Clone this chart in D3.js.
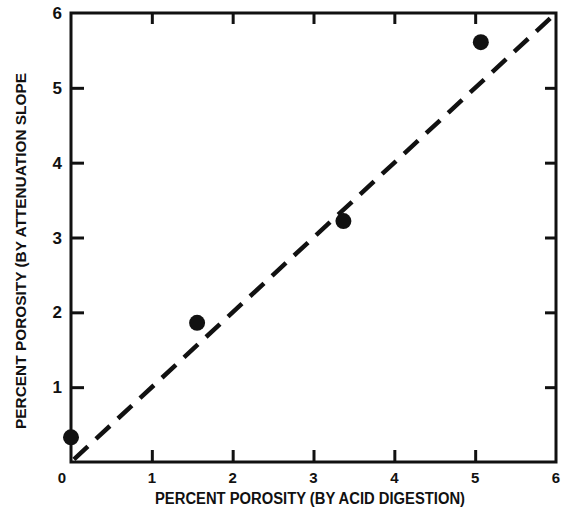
<!DOCTYPE html>
<html>
<head>
<meta charset="utf-8">
<script src="https://cdn.jsdelivr.net/npm/d3@7"></script>
<style>
  body { margin: 0; background: #fff; }
  svg { display: block; }
  text { font-family: "Liberation Sans Narrow", "Arial Narrow", "Liberation Sans", sans-serif; font-weight: bold; fill: #111; }
</style>
</head>
<body>
<div id="chart"></div>
<script>
// values
const acidPorosity = [0.0, 1.56, 3.37, 5.07]
const slopePorosity = [0.33, 1.86, 3.22, 5.61]
const tickValues = [0, 1, 2, 3, 4, 5, 6]
const xTitle = "PERCENT POROSITY (BY ACID DIGESTION)"
const yTitle = "PERCENT POROSITY (BY ATTENUATION SLOPE"

const width = 561, height = 510
const m = {left: 71, right: 5, top: 13, bottom: 48}

const svg = d3.select("#chart").append("svg")
    .attr("width", width)
    .attr("height", height)

const x = d3.scaleLinear().domain([0, 6]).range([m.left, width - m.right])
const y = d3.scaleLinear().domain([0, 6]).range([height - m.bottom, m.top])

// ticks point inward on all four sides
const inner = tickValues.slice(1, -1)
function styleAxis(g){
    g.select(".domain").remove()
    g.selectAll(".tick line").attr("stroke", "#111").attr("stroke-width", 3)
}

svg.append("g")
    .attr("transform", "translate(0," + y(0) + ")")
    .call(d3.axisBottom(x).tickValues(inner).tickSize(-12).tickFormat(""))
    .call(styleAxis)
svg.append("g")
    .attr("transform", "translate(0," + y(6) + ")")
    .call(d3.axisTop(x).tickValues(inner).tickSize(-11).tickFormat(""))
    .call(styleAxis)
svg.append("g")
    .attr("transform", "translate(" + x(0) + ",0)")
    .call(d3.axisLeft(y).tickValues(inner).tickSize(-13).tickFormat(""))
    .call(styleAxis)
svg.append("g")
    .attr("transform", "translate(" + x(6) + ",0)")
    .call(d3.axisRight(y).tickValues(inner).tickSize(-11).tickFormat(""))
    .call(styleAxis)

// frame
svg.append("rect")
    .attr("x", x(0)).attr("y", y(6))
    .attr("width", x(6) - x(0)).attr("height", y(0) - y(6))
    .attr("fill", "none").attr("stroke", "#111").attr("stroke-width", 3)

// tick labels
svg.append("g").selectAll("text")
    .data(tickValues)
    .join("text")
    .attr("x", d => d == 0 ? x(d) - 9 : x(d))
    .attr("y", y(0) + 21)
    .attr("text-anchor", "middle")
    .style("font-size", "15px")
    .text(d => d)

svg.append("g").selectAll("text")
    .data(tickValues.slice(1))
    .join("text")
    .attr("x", x(0) - 9)
    .attr("y", d => y(d) + 6)
    .attr("text-anchor", "end")
    .style("font-size", "17px")
    .text(d => d)

// 1:1 line
svg.append("line")
    .attr("x1", x(0)).attr("y1", y(0))
    .attr("x2", x(6)).attr("y2", y(6))
    .attr("stroke", "#111")
    .attr("stroke-width", 4.5)
    .attr("stroke-dasharray", "19 11")
    .attr("stroke-dashoffset", -4)

// points
svg.append("g").selectAll("circle")
    .data(acidPorosity.map((d, i) => [d, slopePorosity[i]]))
    .join("circle")
    .attr("cx", d => x(d[0]))
    .attr("cy", d => y(d[1]))
    .attr("r", 8)
    .attr("fill", "#111")

// axis titles
svg.append("text")
    .attr("x", 310)
    .attr("y", 504)
    .attr("text-anchor", "middle")
    .attr("textLength", 310)
    .attr("lengthAdjust", "spacingAndGlyphs")
    .style("font-size", "16px")
    .text(xTitle)

svg.append("text")
    .attr("transform", "translate(26,251) rotate(-90)")
    .attr("text-anchor", "middle")
    .attr("textLength", 356)
    .attr("lengthAdjust", "spacingAndGlyphs")
    .style("font-size", "15px")
    .text(yTitle)
</script>
</body>
</html>
